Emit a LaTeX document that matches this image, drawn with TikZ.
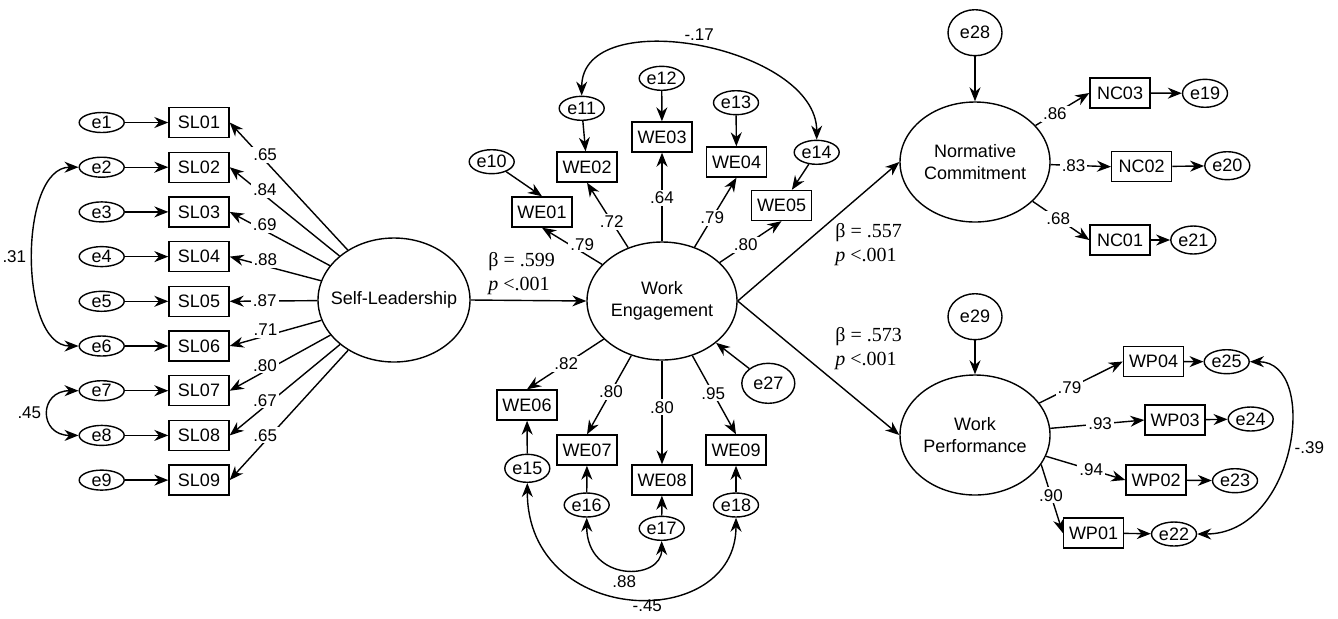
\documentclass[tikz,border=0pt]{standalone}
\usepackage{fontspec}
\setmainfont{Liberation Sans}
\newfontfamily\tnr{Liberation Serif}
\usetikzlibrary{shapes,arrows.meta}
\newcommand{\zb}[1]{\makebox[0pt]{#1}}

\begin{document}
\begin{tikzpicture}[x=0.5pt, y=-0.5pt, line width=0.7pt,
  font=\fontsize{9}{11}\selectfont,
  arr/.style={-{Stealth[length=7pt,width=5.5pt]}},
  dbl/.style={{Stealth[length=7pt,width=5.5pt]}-{Stealth[length=7pt,width=5.5pt]}},
  lbl/.style={fill=white, inner sep=1pt, font=\fontsize{8.5}{10}\selectfont},
  coef/.style={font=\tnr\fontsize{10}{12}\selectfont, align=left, anchor=west}]

  \useasboundingbox (0,0) rectangle (1338,618);

  % Variables latentes
  \begin{scope}[every node/.style={ellipse, draw, align=center, inner sep=0pt}]
    \node[minimum width=76pt, minimum height=62pt] (SL) at (394,300) {\zb{Self-Leadership}};
    \node[minimum width=75pt, minimum height=59pt] (WE) at (662,301) {\zb{Work}\\\zb{Engagement}};
    \node[minimum width=75pt, minimum height=60pt] (NC) at (975,162) {\zb{Normative}\\\zb{Commitment}};
    \node[minimum width=75pt, minimum height=60pt] (WP) at (975,435) {\zb{Work}\\\zb{Performance}};
  \end{scope}

  % Indicadores
  \begin{scope}[every node/.style={rectangle, draw, minimum width=30pt, minimum height=15pt, inner sep=1pt}]
    \node (sl1) at (199,122.5) {SL01};
    \node (sl2) at (199,167.2) {SL02};
    \node (sl3) at (199,211.9) {SL03};
    \node (sl4) at (199,256.6) {SL04};
    \node (sl5) at (199,301.3) {SL05};
    \node (sl6) at (199,346) {SL06};
    \node (sl7) at (199,390.7) {SL07};
    \node (sl8) at (199,435.4) {SL08};
    \node (sl9) at (199,480.1) {SL09};
    \node (we1) at (542,212) {WE01};
    \node (we2) at (587,167) {WE02};
    \node (we3) at (662,137) {WE03};
    \node (we4) at (736.5,162) {WE04};
    \node (we5) at (781.5,205.5) {WE05};
    \node (we6) at (527,405) {WE06};
    \node (we7) at (587,450) {WE07};
    \node (we8) at (662,480) {WE08};
    \node (we9) at (736,450) {WE09};
    \node (nc3) at (1120,93) {NC03};
    \node (nc2) at (1141.7,166.7) {NC02};
    \node (nc1) at (1120,240) {NC01};
    \node (wp4) at (1153.5,361.5) {WP04};
    \node (wp3) at (1175,420) {WP03};
    \node (wp2) at (1156,480) {WP02};
    \node (wp1) at (1093.5,533) {WP01};
  \end{scope}

  % Errores
  \begin{scope}[every node/.style={ellipse, draw, inner sep=0pt, minimum width=22.5pt, minimum height=12pt}]
    \node[minimum height=10pt] (e1) at (101.7,122.5) {e1};
    \node[minimum height=10pt] (e2) at (101.7,167.2) {e2};
    \node[minimum height=10pt] (e3) at (101.7,211.9) {e3};
    \node[minimum height=10pt] (e4) at (101.7,256.6) {e4};
    \node[minimum height=10pt] (e5) at (101.7,301.3) {e5};
    \node[minimum height=10pt] (e6) at (101.7,346) {e6};
    \node[minimum height=10pt] (e7) at (101.7,390.7) {e7};
    \node[minimum height=10pt] (e8) at (101.7,435.4) {e8};
    \node[minimum height=10pt] (e9) at (101.7,480.1) {e9};
    \node (e10) at (491.7,161.7) {e10};
    \node (e11) at (581.7,108.3) {e11};
    \node (e12) at (661.7,78.3) {e12};
    \node (e13) at (736,102.7) {e13};
    \node (e14) at (816.7,152.3) {e14};
    \node[minimum height=14pt] (e15) at (527.3,468.3) {e15};
    \node (e16) at (586.7,505) {e16};
    \node (e17) at (661.7,528.3) {e17};
    \node (e18) at (736,505) {e18};
    \node[minimum height=14pt] (e19) at (1205,93.3) {e19};
    \node[minimum height=14pt] (e20) at (1227.3,165.7) {e20};
    \node[minimum height=14pt] (e21) at (1193.3,240) {e21};
    \node (e22) at (1174,534) {e22};
    \node (e23) at (1235,480.7) {e23};
    \node (e24) at (1250.7,419) {e24};
    \node (e25) at (1226.7,361.7) {e25};
    \node[minimum width=26.5pt, minimum height=20pt] (e27) at (768.3,383.3) {e27};
    \node[minimum width=27pt, minimum height=23pt] (e28) at (975,32.7) {e28};
    \node[minimum width=27pt, minimum height=23pt] (e29) at (975,316.7) {e29};
  \end{scope}

  % Cargas de Self-Leadership
  \draw[arr] (SL) -- node[lbl, pos=.70, yshift=3pt] {.65} (sl1.east);
  \draw[arr] (SL) -- node[lbl, pos=.68, yshift=3pt] {.84} (sl2.east);
  \draw[arr] (SL) -- node[lbl, pos=.65, yshift=3pt] {.69} (sl3.east);
  \draw[arr] (SL) -- node[lbl, pos=.61, yshift=3pt] {.88} (sl4.east);
  \draw[arr] (SL) -- node[lbl, pos=.60] {.87} (sl5.east);
  \draw[arr] (SL) -- node[lbl, pos=.61, yshift=3pt] {.71} (sl6.east);
  \draw[arr] (SL) -- node[lbl, pos=.65, yshift=3pt] {.80} (sl7.east);
  \draw[arr] (SL) -- node[lbl, pos=.68, yshift=3pt] {.67} (sl8.east);
  \draw[arr] (SL) -- node[lbl, pos=.70, yshift=3pt] {.65} (sl9.east);

  \draw[arr] (e1) -- (sl1);
  \draw[arr] (e2) -- (sl2);
  \draw[arr] (e3) -- (sl3);
  \draw[arr] (e4) -- (sl4);
  \draw[arr] (e5) -- (sl5);
  \draw[arr] (e6) -- (sl6);
  \draw[arr] (e7) -- (sl7);
  \draw[arr] (e8) -- (sl8);
  \draw[arr] (e9) -- (sl9);

  \draw[dbl] (e2.west) .. controls +(-60,0) and +(-60,0) .. node[midway, left, font=\fontsize{8.5}{10}\selectfont] {.31} (e6.west);
  \draw[dbl] (e7.west) .. controls +(-40,0) and +(-40,0) .. node[midway, left, font=\fontsize{8.5}{10}\selectfont] {.45} (e8.west);

  % Cargas de Work Engagement
  \draw[arr] (WE) -- node[lbl, pos=.33, yshift=4pt] {.79} (we1.south);
  \draw[arr] (WE) -- node[lbl, pos=.40] {.72} (we2.south);
  \draw[arr] (WE) -- node[lbl, pos=.49] {.64} (we3.south);
  \draw[arr] (WE) -- node[lbl, pos=.42] {.79} (we4.south);
  \draw[arr] (WE) -- node[lbl, pos=.42] {.80} (we5.south);
  \draw[arr] (WE) -- node[lbl, pos=.49] {.82} (we6.north);
  \draw[arr] (WE) -- node[lbl, pos=.46] {.80} (we7.north);
  \draw[arr] (WE) -- node[lbl, pos=.45] {.80} (we8.north);
  \draw[arr] (WE) -- node[lbl, pos=.48] {.95} (we9.north);

  \draw[arr] (e10) -- (we1.north);
  \draw[arr] (e11) -- (we2);
  \draw[arr] (e12) -- (we3);
  \draw[arr] (e13) -- (we4);
  \draw[arr] (e14) -- (we5);
  \draw[arr] (e15) -- (we6);
  \draw[arr] (e16) -- (we7);
  \draw[arr] (e17) -- (we8);
  \draw[arr] (e18) -- (we9);
  \draw[arr] (e27) -- (WE);

  \draw[dbl] (e11.north) to[out=90, in=90] node[midway, above, font=\fontsize{8.5}{10}\selectfont] {-.17} (e14.north);
  \draw[dbl] (e16.south) .. controls +(0,65) and +(0,40) .. node[midway, below, font=\fontsize{8.5}{10}\selectfont] {.88} (e17.south);
  \draw[dbl] (e15.south) .. controls +(0,145) and +(0,115) .. node[pos=.55, below, inner sep=0.5pt, font=\fontsize{8.5}{10}\selectfont] {-.45} (e18.south);

  % Caminos estructurales
  \draw[arr] (SL.east) -- (WE.west);
  \draw[arr] (WE.east) -- (NC.west);
  \draw[arr] (WE.east) -- (WP.west);
  \draw[arr] (e28) -- (NC);
  \draw[arr] (e29) -- (WP);

  \node[coef] (b1) at (481,274) {β = .599\\\textit{p} <.001};
  \node[coef] (b2) at (828,244.5) {β = .557\\\textit{p} <.001};
  \node[coef] (b3) at (828,348.5) {β = .573\\\textit{p} <.001};

  % Normative Commitment
  \draw[arr] (NC) -- node[lbl, pos=.36] {.86} (nc3.west);
  \draw[arr] (NC) -- node[lbl, pos=.38] {.83} (nc2.west);
  \draw[arr] (NC) -- node[lbl, pos=.45] {.68} (nc1.west);
  \draw[arr] (nc3) -- (e19);
  \draw[arr] (nc2) -- (e20);
  \draw[arr] (nc1) -- (e21);

  % Work Performance
  \draw[arr] (WP) -- node[lbl, pos=.36] {.79} (wp4.west);
  \draw[arr] (WP) -- node[lbl, pos=.53] {.93} (wp3.west);
  \draw[arr] (WP) -- node[lbl, pos=.57] {.94} (wp2.west);
  \draw[arr] (WP.-24) -- node[lbl, pos=.45] {.90} (wp1.west);
  \draw[arr] (wp4) -- (e25);
  \draw[arr] (wp3) -- (e24);
  \draw[arr] (wp2) -- (e23);
  \draw[arr] (wp1) -- (e22);

  \draw[dbl] (e25.east) .. controls +(70,0) and +(100,0) .. node[midway, right, font=\fontsize{8.5}{10}\selectfont] {-.39} (e22.east);

\end{tikzpicture}
\end{document}
